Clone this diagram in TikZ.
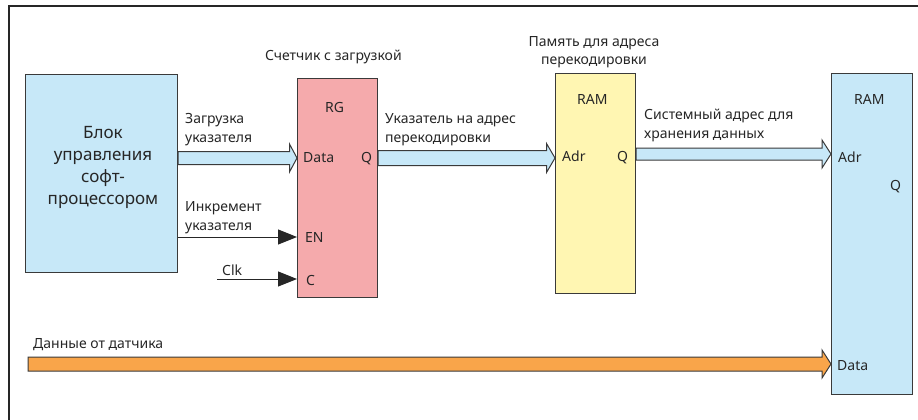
\documentclass[tikz,border=0pt]{standalone}
\usepackage{fontspec}
\setmainfont{Noto Sans}
\usetikzlibrary{arrows.meta,calc}
\definecolor{boxline}{HTML}{3A3A3A}
\definecolor{ctlblue}{HTML}{C7E8F8}
\definecolor{rgpink}{HTML}{F5AAAC}
\definecolor{ramyellow}{HTML}{FFF6B2}
\definecolor{dataorange}{HTML}{F9A54A}
\tikzset{
  blockbox/.style={draw=boxline, line width=1.1pt, anchor=north west, inner sep=0pt},
  lbl/.style={font=\fontsize{14}{18.5}\selectfont, text=black!85, inner sep=0pt, anchor=base west, align=left},
  pin/.style={font=\fontsize{14}{16}\selectfont, text=black!85, inner sep=0pt, anchor=base west},
  sig/.style={line width=1pt, draw=black!85, -{Triangle[length=19pt,width=15pt]}},
}
% wide bus arrow: start, tip, half shaft width, half head width, head length, fill
\newcommand{\busarrow}[6]{%
  \path[draw=boxline, line width=1pt, fill=#6, line join=miter]
    let \p1=(#1), \p2=(#2) in
    (\x1,\y1+#3) -- (\x2-#5,\y1+#3) -- (\x2-#5,\y1+#4) -- (\x2,\y2)
    -- (\x2-#5,\y1-#4) -- (\x2-#5,\y1-#3) -- (\x1,\y1-#3) -- cycle;}
\begin{document}
\begin{tikzpicture}[x=1pt,y=-1pt]
\useasboundingbox (0,0) rectangle (918,420);
% frame
\draw[line width=1.4pt, draw=black!85] (9,420) -- (9,6) -- (918,6);

% blocks
\node[blockbox, fill=ctlblue, minimum width=152pt, minimum height=198pt] (blk) at (25,74) {};
\node[blockbox, fill=rgpink, minimum width=80pt, minimum height=219pt] (rg) at (297,78) {};
\node[blockbox, fill=ramyellow, minimum width=80pt, minimum height=220pt] (rama) at (555,73) {};
\node[blockbox, fill=ctlblue, minimum width=81pt, minimum height=321pt] (ramb) at (831,73) {};

% multi-line nodes are placed by the baseline of their last line
\node[font=\fontsize{17}{22}\selectfont, text=black!85, align=center, anchor=base, inner sep=0pt] at (103,204) {Блок\\управления\\софт-\\процессором};

% block titles
\node[lbl] at (265,61) {Счетчик с загрузкой};
\node[lbl, align=center, anchor=base] at (594,65) {Память для адреса\\перекодировки};

% pins
\node[pin] at (325,112) {RG};
\node[pin] at (303,162) {Data};
\node[pin] at (361,162) {Q};
\node[pin] at (305,242) {EN};
\node[pin] at (306,285) {C};

\node[pin] at (577,104) {RAM};
\node[pin] at (562,161) {Adr};
\node[pin] at (617,161) {Q};

\node[pin] at (854,104) {RAM};
\node[pin] at (838,162) {Adr};
\node[pin] at (890,190) {Q};
\node[pin] at (837,370) {Data};

% anchor points for the connectors
\coordinate (inData) at (297,158);
\coordinate (inAdr)  at (555,158);
\coordinate (inAdrB) at (831,154);
\coordinate (inDataB) at (831,364);
\coordinate (enIn) at (297,237);
\coordinate (cIn) at (297,279);
\coordinate (clkSrc) at (217,279);
\coordinate (sensor) at (28,364);

% bus arrows
\busarrow{blk.east |- inData}{inData}{6.5}{14}{7.5}{ctlblue}
\busarrow{rg.east |- inAdr}{inAdr}{7.5}{14.5}{8.5}{ctlblue}
\busarrow{rama.east |- inAdrB}{inAdrB}{6}{14}{9}{ctlblue}
\busarrow{sensor}{inDataB}{7}{14}{9}{dataorange}

% single-line control signals
\draw[sig] (blk.east |- enIn) -- (enIn);
\draw[sig] (clkSrc) -- (cIn);

% signal labels
\node[lbl] at (185,142) {Загрузка\\указателя};
\node[lbl] at (185,230) {Инкремент\\указателя};
\node[lbl] at (222,275) {Clk};
\node[lbl] at (385,142) {Указатель на адрес\\перекодировки};
\node[lbl] at (644,138) {Системный адрес для\\хранения данных};
\node[lbl] at (33,348) {Данные от датчика};
\end{tikzpicture}
\end{document}
